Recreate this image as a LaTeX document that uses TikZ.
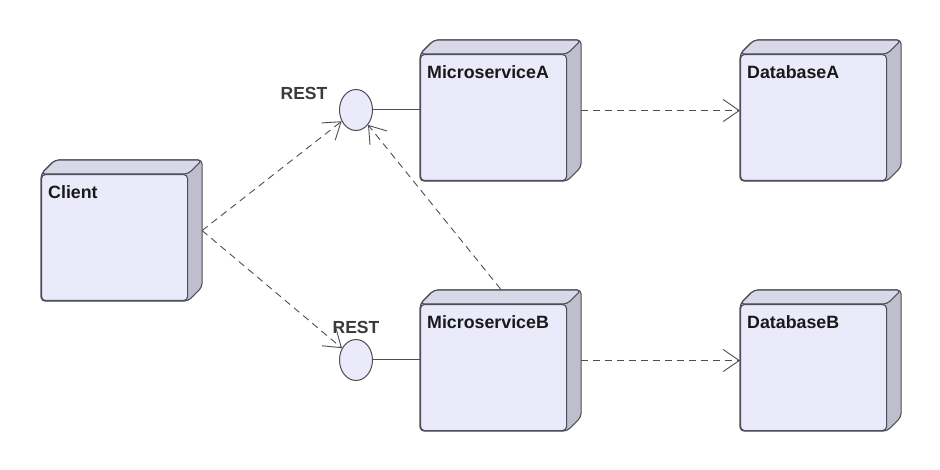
\documentclass[tikz,border=0pt]{standalone}
\usepackage{fontspec}
\setmainfont{Liberation Sans}
\usetikzlibrary{arrows.meta,shapes.geometric,backgrounds,calc}
\definecolor{nodefront}{RGB}{234,234,250}
\definecolor{nodetop}{RGB}{216,216,232}
\definecolor{nodeside}{RGB}{190,190,205}
\definecolor{edge}{RGB}{78,78,88}
\definecolor{restgray}{RGB}{58,58,58}
\tikzset{
  box/.style={rectangle,draw=edge,fill=nodefront,rounded corners=4pt,line width=1.1pt,minimum width=146pt,minimum height=126pt,anchor=north west,inner sep=0pt},
  sidef/.style={draw=edge,fill=nodeside,line width=1.1pt,rounded corners=4pt,line join=round},
  topf/.style={draw=edge,fill=nodetop,line width=1.1pt,rounded corners=4pt,line join=round},
  ttl/.style={font=\fontsize{17.8}{20}\selectfont\bfseries,text=black!90,anchor=base west,inner sep=0pt},
  iface/.style={ellipse,draw=edge,fill=nodefront,line width=1pt,minimum width=33pt,minimum height=41pt,inner sep=0pt},
  rest/.style={font=\fontsize{17.5}{20}\selectfont\bfseries,text=restgray,inner sep=0pt},
  dep/.style={draw=edge,line width=.9pt,dash pattern=on 7pt off 5pt,-{Straight Barb[length=16pt,width=22pt]}},
  lnk/.style={draw=edge,line width=1pt},
}
\begin{document}
\begin{tikzpicture}[x=1pt,y=-1pt]
\useasboundingbox (0,0) rectangle (940,470);
% ---- nodes (front faces)
\node[box] (client) at (41,174) {};
\node[box] (msa) at (420,54) {};
\node[box] (msb) at (420,304) {};
\node[box] (dba) at (740,54) {};
\node[box] (dbb) at (740,304) {};
% ---- extrusion behind each node
\begin{scope}[on background layer]
\fill[white] (0,0) rectangle (940,470);
\foreach \n in {client,msa,msb,dba,dbb}{
  \draw[sidef] (\n.south west) -- (\n.north west) -- ++(14,-14) -- ([shift={(14pt,14pt)}]\n.north east)
    -- ([shift={(14pt,14pt)}]\n.south east) -- (\n.south east) -- cycle;
  \draw[topf] (\n.north west) -- ++(14,-14) -- ([shift={(14pt,14pt)}]\n.north east) -- (\n.north east) -- cycle;
}
\end{scope}
% ---- titles
\node[ttl] (clientT) at ([shift={(7pt,-24.5pt)}]client.north west) {Client};
\node[ttl] (msaT) at ([shift={(7pt,-24.5pt)}]msa.north west) {MicroserviceA};
\node[ttl] (msbT) at ([shift={(7pt,-24.5pt)}]msb.north west) {MicroserviceB};
\node[ttl] (dbaT) at ([shift={(7pt,-24.5pt)}]dba.north west) {DatabaseA};
\node[ttl] (dbbT) at ([shift={(7pt,-24.5pt)}]dbb.north west) {DatabaseB};
% ---- interfaces
\node[iface] (ifa) at (356,110) {};
\node[iface] (ifb) at (356,360) {};
\node[rest] (restA) at (304,93) {REST};
\node[rest] (restB) at (356,327) {REST};
\draw[lnk] (ifa.east) -- (ifa.east -| msa.west);
\draw[lnk] (ifb.east) -- (ifb.east -| msb.west);
% ---- dependencies
\coordinate (clientR) at ([shift={(14pt,7pt)}]client.east);
\coordinate (msbTop) at ([shift={(7pt,15pt)}]msb.north);
\coordinate (msaR) at ([shift={(14pt,7pt)}]msa.east);
\coordinate (msbR) at ([shift={(14pt,7pt)}]msb.east);
\draw[dep] (clientR) -- (ifa);
\draw[dep] (clientR) -- (ifb);
\draw[dep] (msbTop) -- (ifa);
\draw[dep] (msaR) -- (msaR -| dba.west);
\draw[dep] (msbR) -- (msbR -| dbb.west);
\end{tikzpicture}
\end{document}
